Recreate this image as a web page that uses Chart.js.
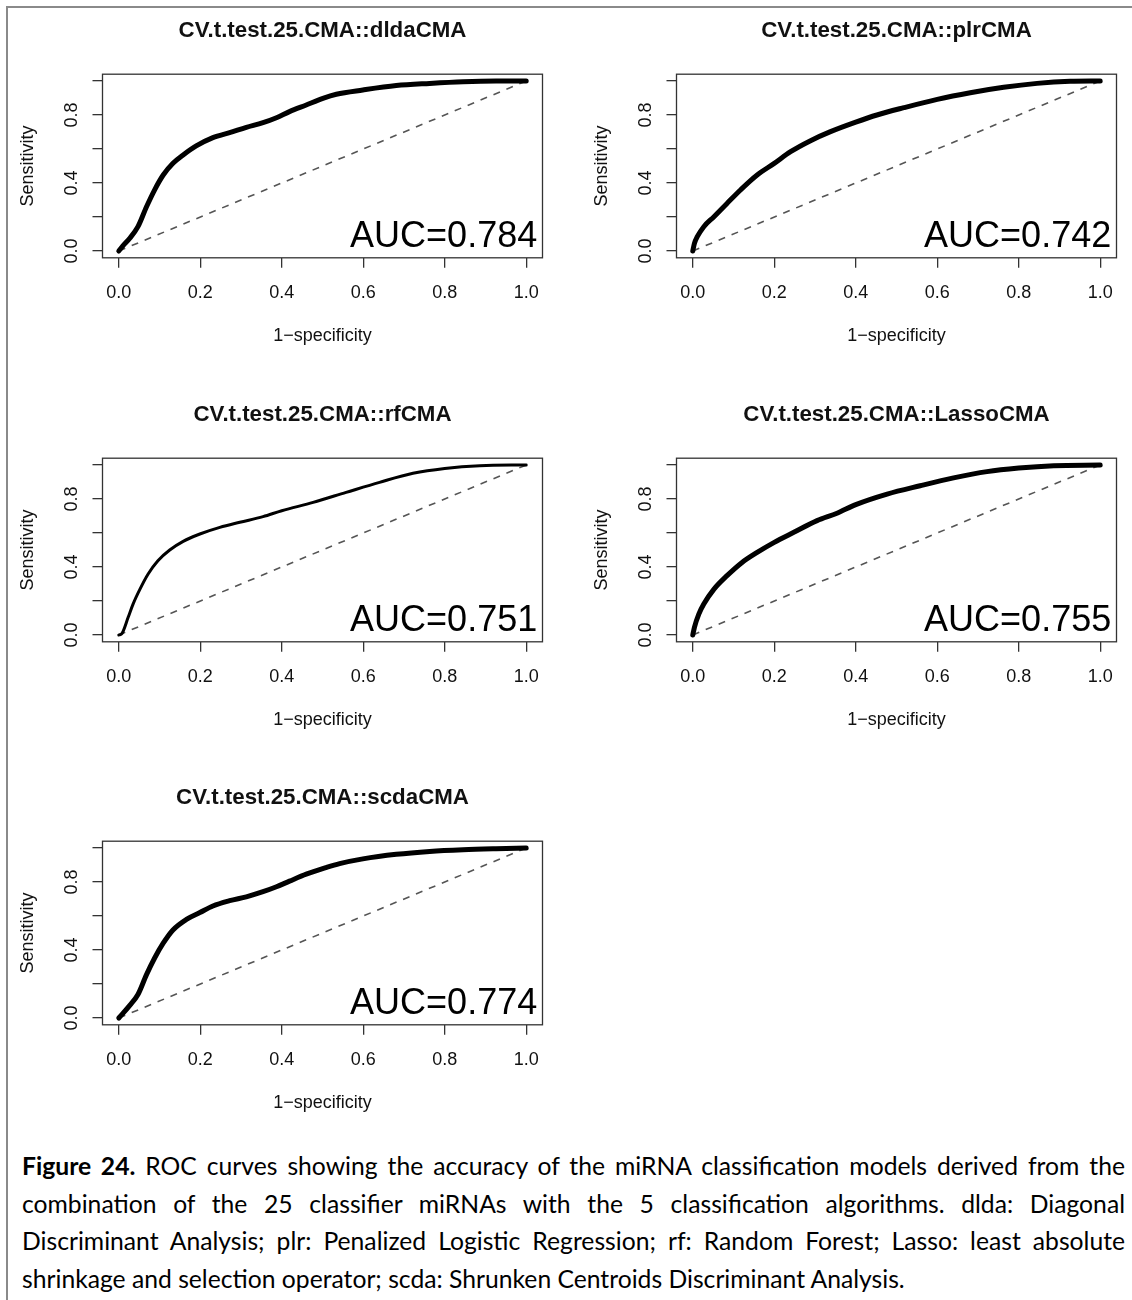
<!DOCTYPE html>
<html>
<head>
<meta charset="utf-8">
<script src="https://cdn.jsdelivr.net/npm/chart.js@4.4.1/dist/chart.umd.min.js"></script>
<style>
    html, body { margin: 0; padding: 0; background: #fff; overflow: hidden; }
    body { position: relative; width: 1132px; height: 1300px; }
    .frame {
        position: absolute; left: 6px; top: 6px; width: 1130px; height: 1300px;
        border-left: 2px solid #8a8a8a; border-top: 2px solid #8a8a8a;
    }
    .panel { position: absolute; }
    .caption {
        position: absolute; left: 22px; top: 1147px; width: 1103px;
        font-family: Lato, "Open Sans", sans-serif; font-size: 24.7px; color: #000;
    }
    .caption div { height: 37.6px; line-height: 37.6px; text-align: justify; text-align-last: justify; }
    .caption div.last { text-align-last: left; }
</style>
</head>
<body>
<div class="frame"></div>
<canvas id="p0" class="panel" width="558" height="370"></canvas>
<canvas id="p1" class="panel" width="558" height="370"></canvas>
<canvas id="p2" class="panel" width="558" height="370"></canvas>
<canvas id="p3" class="panel" width="558" height="370"></canvas>
<canvas id="p4" class="panel" width="558" height="370"></canvas>
<div class="caption">
    <div><b>Figure 24.</b> ROC curves showing the accuracy of the miRNA classification models derived from the</div>
    <div>combination of the 25 classifier miRNAs with the 5 classification algorithms. dlda: Diagonal</div>
    <div>Discriminant Analysis; plr: Penalized Logistic Regression; rf: Random Forest; Lasso: least absolute</div>
    <div class="last">shrinkage and selection operator; scda: Shrunken Centroids Discriminant Analysis.</div>
</div>
<script>
// Axis setup shared by all five ROC panels
const xTickValues = [0, 0.2, 0.4, 0.6, 0.8, 1.0];
const yTickValues = [0, 0.2, 0.4, 0.6, 0.8, 1.0];
const yTickLabels = [0, 0.4, 0.8]; // the other labels would overlap, so only these are printed
const chanceX = [0, 1];
const chanceY = [0, 1];

const panelTitles = [
    'CV.t.test.25.CMA::dldaCMA',
    'CV.t.test.25.CMA::plrCMA',
    'CV.t.test.25.CMA::rfCMA',
    'CV.t.test.25.CMA::LassoCMA',
    'CV.t.test.25.CMA::scdaCMA'
];
const aucValues = [0.784, 0.742, 0.751, 0.755, 0.774];

// ROC curves: false positive rate (1-specificity) vs sensitivity
const dldaFpr = [0, 0.01, 0.027, 0.047, 0.068, 0.088, 0.109, 0.133, 0.158, 0.19, 0.231, 0.272, 0.313, 0.354, 0.387, 0.419, 0.46, 0.501, 0.534, 0.599, 0.681, 0.763, 0.845, 0.926, 1];
const dldaTpr = [0, 0.03, 0.075, 0.143, 0.26, 0.36, 0.447, 0.516, 0.565, 0.618, 0.667, 0.696, 0.727, 0.755, 0.784, 0.82, 0.859, 0.898, 0.922, 0.947, 0.973, 0.986, 0.996, 1, 1];

const plrFpr = [0, 0.004, 0.011, 0.027, 0.052, 0.084, 0.117, 0.158, 0.199, 0.24, 0.289, 0.338, 0.4, 0.452, 0.518, 0.6, 0.681, 0.763, 0.845, 0.926, 1];
const plrTpr = [0, 0.045, 0.084, 0.143, 0.202, 0.28, 0.359, 0.447, 0.514, 0.584, 0.649, 0.702, 0.758, 0.8, 0.843, 0.892, 0.931, 0.963, 0.986, 0.998, 1];

const rfFpr = [0, 0.008, 0.023, 0.035, 0.052, 0.072, 0.096, 0.125, 0.158, 0.199, 0.248, 0.297, 0.354, 0.4, 0.477, 0.558, 0.64, 0.722, 0.8, 0.886, 1];
const rfTpr = [0, 0.01, 0.104, 0.182, 0.27, 0.359, 0.437, 0.5, 0.551, 0.594, 0.633, 0.663, 0.696, 0.731, 0.78, 0.839, 0.898, 0.951, 0.98, 0.996, 1];

const lassoFpr = [0, 0.004, 0.015, 0.027, 0.052, 0.084, 0.121, 0.158, 0.2, 0.248, 0.305, 0.354, 0.4, 0.477, 0.558, 0.64, 0.722, 0.8, 0.886, 1];
const lassoTpr = [0, 0.045, 0.124, 0.182, 0.27, 0.349, 0.427, 0.486, 0.545, 0.604, 0.673, 0.716, 0.767, 0.829, 0.878, 0.924, 0.961, 0.982, 0.996, 1];

const scdaFpr = [0, 0.027, 0.047, 0.068, 0.088, 0.109, 0.133, 0.166, 0.199, 0.231, 0.272, 0.313, 0.354, 0.387, 0.419, 0.46, 0.509, 0.542, 0.599, 0.681, 0.763, 0.845, 0.926, 1];
const scdaTpr = [0, 0.074, 0.138, 0.255, 0.353, 0.44, 0.518, 0.58, 0.62, 0.659, 0.69, 0.713, 0.743, 0.772, 0.805, 0.846, 0.885, 0.908, 0.936, 0.963, 0.98, 0.99, 0.996, 1];

const curves = [
    { fpr: dldaFpr, tpr: dldaTpr, width: 5 },
    { fpr: plrFpr, tpr: plrTpr, width: 5 },
    { fpr: rfFpr, tpr: rfTpr, width: 3 },
    { fpr: lassoFpr, tpr: lassoTpr, width: 5 },
    { fpr: scdaFpr, tpr: scdaTpr, width: 5 }
];

// panel placement on the page (2 columns, 3 rows)
const panelLeft = [0, 574, 0, 574, 0];
const panelTop = [0, 0, 384, 384, 767];

// plot box inside each canvas
const box = { left: 102.5, right: 542.5, top: 74.2, bottom: 257.8 };
const canvasW = 558, canvasH = 370;

Chart.defaults.font.family = '"Liberation Sans", Arial, sans-serif';
Chart.defaults.color = '#111';

const toPoints = (xs, ys) => xs.map((v, i) => ({ x: v, y: ys[i] }));

// box, rotated y labels, panel title and AUC note, drawn the way R's plot() does
const rFrame = {
    id: 'rFrame',
    afterDraw(chart, args, opts) {
        const { ctx, chartArea: a, scales: { x, y } } = chart;
        ctx.save();
        ctx.strokeStyle = '#333';
        ctx.lineWidth = 1.3;
        ctx.strokeRect(a.left, a.top, a.width, a.height);

        ctx.fillStyle = '#111';
        ctx.font = '18px "Liberation Sans"';
        ctx.textAlign = 'center';
        ctx.textBaseline = 'alphabetic';
        yTickLabels.forEach(v => {
            ctx.save();
            ctx.translate(a.left - 26, y.getPixelForValue(v));
            ctx.rotate(-Math.PI / 2);
            ctx.fillText(v.toFixed(1), 0, 0);
            ctx.restore();
        });

        ctx.font = 'bold 22.3px "Liberation Sans"';
        ctx.textBaseline = 'middle';
        ctx.fillText(opts.title, (a.left + a.right) / 2, 30.5);

        ctx.font = '36px "Liberation Sans"';
        ctx.textAlign = 'right';
        ctx.textBaseline = 'alphabetic';
        ctx.fillStyle = '#000';
        ctx.fillText('AUC=' + opts.auc.toFixed(3), x.getPixelForValue(1.027), y.getPixelForValue(0.1) + 12.8);
        ctx.restore();
    }
};

curves.forEach((c, i) => {
    const canvas = document.getElementById('p' + i);
    canvas.style.left = panelLeft[i] + 'px';
    canvas.style.top = panelTop[i] + 'px';

    new Chart(canvas.getContext('2d'), {
        type: 'line',
        data: {
            datasets: [{
                data: toPoints(c.fpr, c.tpr),
                borderColor: '#000',
                borderWidth: c.width,
                borderCapStyle: 'round',
                borderJoinStyle: 'round',
                cubicInterpolationMode: 'monotone',
                pointRadius: 0
            }, {
                data: toPoints(chanceX, chanceY),
                borderColor: '#555',
                borderWidth: 1.6,
                borderDash: [7, 7],
                pointRadius: 0
            }]
        },
        options: {
            responsive: false,
            animation: false,
            layout: { padding: { left: 0, top: box.top, right: canvasW - box.right, bottom: 0 } },
            plugins: {
                legend: { display: false },
                tooltip: { enabled: false },
                rFrame: { title: panelTitles[i], auc: aucValues[i] }
            },
            scales: {
                x: {
                    type: 'linear',
                    min: -0.04,
                    max: 1.04,
                    afterBuildTicks: s => { s.ticks = xTickValues.map(v => ({ value: v })); },
                    afterFit: s => { s.height = canvasH - box.bottom; },
                    ticks: {
                        font: { size: 18 },
                        color: '#111',
                        padding: 14,
                        maxRotation: 0,
                        callback: v => v.toFixed(1)
                    },
                    grid: { drawOnChartArea: false, drawTicks: true, tickLength: 10, color: '#333', lineWidth: 1.3 },
                    border: { display: false },
                    title: {
                        display: true,
                        text: '1\u2212specificity',
                        font: { size: 18 },
                        color: '#111',
                        padding: { top: 0, bottom: 23 }
                    }
                },
                y: {
                    type: 'linear',
                    min: -0.04,
                    max: 1.04,
                    afterBuildTicks: s => { s.ticks = yTickValues.map(v => ({ value: v })); },
                    afterFit: s => { s.width = box.left; },
                    ticks: { display: false },
                    grid: { drawOnChartArea: false, drawTicks: true, tickLength: 10, color: '#333', lineWidth: 1.3 },
                    border: { display: false },
                    title: {
                        display: true,
                        text: 'Sensitivity',
                        font: { size: 18 },
                        color: '#111',
                        padding: { top: 17, bottom: 0 }
                    }
                }
            }
        },
        plugins: [rFrame]
    });
});
</script>
</body>
</html>
